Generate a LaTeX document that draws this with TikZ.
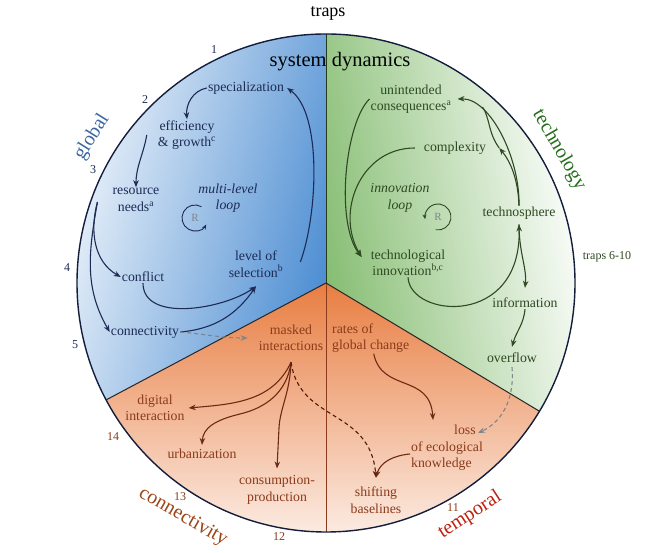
\documentclass[tikz,border=0pt]{standalone}
\usepackage{fontspec}
\setmainfont{Liberation Serif}
\usetikzlibrary{arrows.meta}
\definecolor{navy}{HTML}{1D2B55}
\definecolor{bluefill}{HTML}{4F8FD3}
\definecolor{greenfill}{HTML}{86BD72}
\definecolor{orangefill}{HTML}{E87E42}
\definecolor{leaf}{HTML}{2F4A23}
\definecolor{rust}{HTML}{8B3B1B}
\definecolor{bark}{HTML}{6E2A14}
\definecolor{ash}{HTML}{7F858C}

\begin{document}
\begin{tikzpicture}[x=1pt,y=1pt,
    lbl/.style={inner sep=1pt,align=center,font=\fontsize{13.8}{16.5}\selectfont},
    bl/.style={lbl,text=navy},
    gr/.style={lbl,text=leaf},
    og/.style={lbl,text=rust},
    num/.style={inner sep=1pt,font=\fontsize{12}{14}\selectfont},
    side/.style={inner sep=1pt,font=\fontsize{20}{24}\selectfont},
    loopr/.style={inner sep=1pt,text=ash,font=\fontsize{11}{13}\selectfont},
    barrow/.style={draw=navy,line width=1.1pt,-{Stealth[length=7pt,width=5.5pt]}},
    garrow/.style={draw=leaf,line width=1.1pt,-{Stealth[length=7pt,width=5.5pt]}},
    oarrow/.style={draw=bark,line width=1.1pt,-{Stealth[length=7pt,width=5.5pt]}},
    dasharrow/.style={line width=1.1pt,dash pattern=on 4pt off 3pt,-{Stealth[length=7pt,width=5.5pt]}}]
\useasboundingbox (0,0) rectangle (650,553);
\fill[white] (0,0) rectangle (650,553);
\coordinate (O) at (326,270);
\shade[top color=white,middle color=bluefill!45,bottom color=bluefill,shading angle=75]
    (O) -- ++(208:249) arc[start angle=208,end angle=90,radius=249] -- cycle;
\shade[top color=greenfill,middle color=greenfill!40,bottom color=white,shading angle=100]
    (O) -- ++(90:249) arc[start angle=90,end angle=-31,radius=249] -- cycle;
\shade[top color=orangefill,middle color=orangefill!55,bottom color=orangefill!4,shading angle=0]
    (O) -- ++(-31:249) arc[start angle=-31,end angle=-152,radius=249] -- cycle;
\draw[line width=0.8pt,draw=leaf!80!black] (O) -- ++(90:249);
\draw[line width=0.6pt,draw=rust] (O) -- ++(270:249);
\draw[line width=1pt,draw=black!85] (O) -- ++(208:249) (O) -- ++(329:249);
\draw[line width=1.4pt,draw=navy!70!black] (O) circle[radius=249];

\node[side,font=\fontsize{18}{22}\selectfont] (traps) at (328,540) {traps};
\node[side,font=\fontsize{20.5}{24}\selectfont] (sysdyn) at (340,491) {system dynamics};
\node[side,text=bluefill!60!navy,rotate=58] (global) at (92,416) {global};
\node[side,text=leaf!80!green,rotate=-60] (tech) at (559,403) {technology};
\node[side,text=rust!85!orange,rotate=-30] (connlbl) at (183,36) {connectivity};
\node[side,text=red!45!rust,rotate=33] (temporal) at (470,38) {temporal};
\node[num,text=leaf] (traps610) at (607,296) {traps 6-10};
\foreach \n/\x/\y in {1/214/503,2/145/453,3/93/383,4/67/285,5/75/208}
    \node[num,text=navy] (n\n) at (\x,\y) {\n};
\foreach \n/\x/\y in {11/453/45,12/279/16,13/180/56,14/113/116}
    \node[num,text=rust] (n\n) at (\x,\y) {\n};

\node[bl] (spec) at (246,465) {specialization};
\node[bl] (eff) at (187,418) {efficiency\\\& growth\textsuperscript{c}};
\node[bl] (res) at (136,353) {resource\\needs\textsuperscript{a}};
\node[bl,font=\fontsize{13.8}{16.5}\selectfont\itshape] (mll) at (228,355) {multi-level\\loop};
\node[loopr] (rb) at (195,335) {R};
\node[bl] (sel) at (256,289) {level of\\selection\textsuperscript{b}};
\node[bl] (conf) at (143,276) {conflict};
\node[bl] (conn) at (145,221) {connectivity};

\node[gr] (unint) at (411,454) {unintended\\consequences\textsuperscript{a}};
\node[gr] (cplx) at (455,405) {complexity};
\node[gr,font=\fontsize{13.8}{16.5}\selectfont\itshape] (innloop) at (400,355) {innovation\\loop};
\node[loopr] (rg) at (438,336) {R};
\node[gr] (techinn) at (408,290) {technological\\innovation\textsuperscript{b,c}};
\node[gr] (techsph) at (519,340) {technosphere};
\node[gr] (info) at (525,250) {information};
\node[gr] (ovfl) at (512,195) {overflow};

\node[og] (masked) at (291,215) {masked\\interactions};
\node[og,align=left,anchor=west] (rates) at (331,215) {rates of\\global change};
\node[og] (digital) at (155,145) {digital\\interaction};
\node[og] (urban) at (202,99) {urbanization};
\node[og] (cons) at (277,63) {consumption-\\production};
\node[og,align=left] (loss) at (447,105) {\hspace*{43pt}loss\\of ecological\\knowledge};
\node[og] (shift) at (376,53) {shifting\\baselines};

\draw[barrow] ([shift={(16pt,2pt)}]sel.east) .. controls (318,340) and (322,440) .. ([xshift=2pt]spec.east);
\draw[barrow] (spec.west) to[out=190,in=95] (eff.north);
\draw[barrow] ([xshift=-10pt]eff.west) to[out=260,in=90] (res.north);
\draw[barrow] ([shift={(-14pt,-2pt)}]res.west) to[out=255,in=150] (conf.west);
\draw[barrow] ([shift={(-14pt,-2pt)}]res.west) to[out=260,in=120] (conn.west);
\draw[barrow] (conf.south) to[out=-90,in=215,looseness=0.9] ([yshift=-8pt]sel.south);
\draw[barrow] (conn.east) to[out=5,in=235] ([yshift=-8pt]sel.south);
\draw[dasharrow,draw=ash] (conn.east) to[out=-5,in=180] ([xshift=-10pt]masked.west);
\draw[draw=navy,line width=0.9pt,-{Stealth[length=5pt,width=4pt]}] (rb.center) ++(60:13) arc[start angle=60,end angle=330,radius=13];

\draw[garrow] (unint.west) .. controls (345,430) and (335,330) .. ([shift={(-8pt,6pt)}]techinn.west);
\draw[garrow] ([xshift=-8pt]cplx.west) .. controls (360,405) and (335,340) .. ([shift={(-8pt,6pt)}]techinn.west);
\draw[garrow] (techinn.south) .. controls (410,235) and (522,225) .. ([yshift=-4pt]techsph.south);
\draw[garrow] (techsph.north) .. controls (520,395) and (490,455) .. ([xshift=5pt]unint.east);
\draw[garrow] (techsph.north) .. controls (518,375) and (510,392) .. ([xshift=12pt]cplx.east);
\draw[draw=leaf,line width=1.1pt] ([xshift=12pt]cplx.east) .. controls (488,420) and (490,435) .. ([shift={(30pt,-8pt)}]unint.east);
\draw[garrow] ([yshift=-4pt]techsph.south) .. controls (519,300) and (527,285) .. ([yshift=9pt]info.north);
\draw[garrow] (info.south) to[out=-95,in=75] ([yshift=5pt]ovfl.north);
\draw[dasharrow,draw=ash] ([yshift=-3pt]ovfl.south) to[out=-85,in=25] ([shift={(-6pt,-9pt)}]loss.north east);
\draw[draw=leaf,line width=0.9pt,-{Stealth[length=5pt,width=4pt]}] (rg.center) ++(-100:13) arc[start angle=-100,end angle=190,radius=13];

\draw[oarrow] ([yshift=-10pt]masked.south) to[out=245,in=5] ([xshift=3pt]digital.east);
\draw[oarrow] ([yshift=-10pt]masked.south) .. controls (287,160) and (265,145) .. (240,139) .. controls (215,133) and (203,125) .. ([yshift=3pt]urban.north);
\draw[oarrow] ([yshift=-10pt]masked.south) .. controls (290,160) and (280,145) .. (279,125) -- ([yshift=6pt]cons.north);
\draw[dasharrow,draw=bark!70!black] ([yshift=-10pt]masked.south) .. controls (300,130) and (370,145) .. ([yshift=8pt]shift.north);
\draw[oarrow] ([xshift=3pt]rates.south) .. controls (382,160) and (430,180) .. ([shift={(-14pt,4pt)}]loss.north);
\draw[oarrow] ([yshift=-6pt]loss.west) to[out=185,in=75] ([yshift=8pt]shift.north);
\end{tikzpicture}
\end{document}
